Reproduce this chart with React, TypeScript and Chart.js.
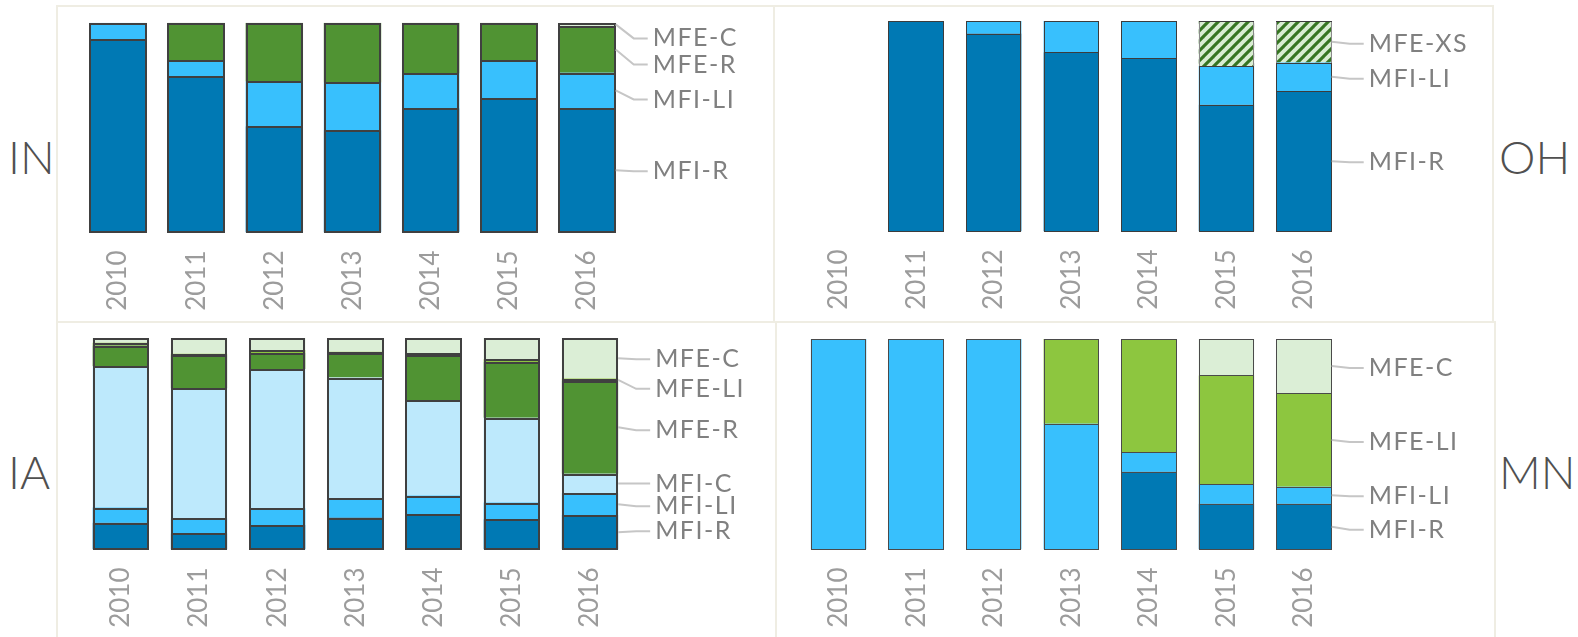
import React, { useEffect, useRef } from "react";
import { Chart, registerables } from "chart.js";

Chart.register(...registerables);

// ---------- data ----------
const YEARS = ["2010", "2011", "2012", "2013", "2014", "2015", "2016"];

// IN
const IN_MFI_R = [92, 74.4, 50.6, 48.7, 59.2, 64, 59.3];
const IN_MFI_LI = [8, 7.8, 21.4, 22.8, 16.6, 18, 16.8];
const IN_MFE_R = [null, 17.8, 28, 28.5, 24.2, 18, 22.3];
const IN_MFE_C = [null, null, null, null, null, null, 1.6];

// OH
const OH_MFI_R = [null, 100, 94.1, 85.2, 82.5, 60.3, 66.8];
const OH_MFI_LI = [null, null, 5.9, 14.8, 17.5, 18.4, 13.5];
const OH_MFE_XS = [null, null, null, null, null, 21.3, 19.7];

// IA
const IA_MFI_R = [12.7, 7.6, 11.6, 15.1, 16.6, 14.3, 16.3];
const IA_MFI_LI = [7.1, 7.1, 7.9, 9.1, 8.9, 7.9, 10.3];
const IA_MFI_C = [66.9, 61.5, 65.8, 57.1, 45.2, 40.1, 9.2];
const IA_MFE_R = [9.7, 15.6, 7.6, 11.6, 21.4, 26.3, 43.9];
const IA_MFE_LI = [1.4, 0.8, 1.4, 0.6, 0.6, 1.4, 1.1];
const IA_MFE_C = [2.2, 7.4, 5.7, 6.5, 7.3, 10, 19.2];

// MN
const MN_MFI_R = [null, null, null, null, 36.9, 21.7, 21.7];
const MN_MFI_LI = [100, 100, 100, 59.7, 9.4, 9.2, 8.1];
const MN_MFE_LI = [null, null, null, 40.3, 53.7, 51.8, 44.5];
const MN_MFE_C = [null, null, null, null, null, 17.3, 25.7];

// ---------- styles ----------
const C_MFI_R = "#0079b4";
const C_MFI_LI = "#38c0fd";
const C_MFI_C = "#bde9fc";
const C_MFE_R = "#509333";
const C_MFE_LI = "#8dc63f";
const C_MFE_C = "#dbeed6";
const FRAME = "#efede3";
const FONT = "Lato, 'Open Sans', sans-serif";

function makeHatch(): CanvasPattern | string {
  const c = document.createElement("canvas");
  c.width = 10;
  c.height = 10;
  const g = c.getContext("2d");
  if (!g) return "#dbeed6";
  g.fillStyle = "#d9edd3";
  g.fillRect(0, 0, 10, 10);
  g.strokeStyle = "#367522";
  g.lineWidth = 3.1;
  g.lineCap = "square";
  const segs = [
    [-5, 5, 5, -5],
    [0, 10, 10, 0],
    [5, 15, 15, 5],
  ];
  for (const s of segs) {
    g.beginPath();
    g.moveTo(s[0], s[1]);
    g.lineTo(s[2], s[3]);
    g.stroke();
  }
  const p = g.createPattern(c, "repeat");
  return p || "#dbeed6";
}

// draws the dark outlines of every stacked segment
const barBorders = {
  id: "barBorders",
  afterDatasetsDraw(chart: any, _args: any, opts: any) {
    const bw = opts.width || 1;
    const color = opts.color || "#404040";
    const ctx = chart.ctx;
    const n = chart.data.labels.length;
    ctx.save();
    for (let i = 0; i < n; i++) {
      let stackTop = Infinity;
      let stackBottom = -Infinity;
      let L = 0;
      let R = 0;
      let any = false;
      chart.data.datasets.forEach((ds: any, di: number) => {
        const v = ds.data[i];
        if (v == null || v <= 0) return;
        const el: any = chart.getDatasetMeta(di).data[i];
        if (!el) return;
        L = Math.round(el.x - el.width / 2);
        R = Math.round(el.x + el.width / 2);
        const top = Math.round(Math.min(el.y, el.base));
        const bot = Math.round(Math.max(el.y, el.base));
        stackTop = Math.min(stackTop, top);
        stackBottom = Math.max(stackBottom, bot);
        ctx.fillStyle = ds.edgeColor || color;
        ctx.fillRect(L, top, bw, bot - top);
        ctx.fillRect(R - bw, top, bw, bot - top);
        ctx.fillStyle = color;
        ctx.fillRect(L, top, R - L, bw);
        any = true;
      });
      if (!any) continue;
      ctx.fillStyle = color;
      ctx.fillRect(L, stackBottom - bw, R - L, bw);
    }
    ctx.restore();
  },
};

const sideLabels = {
  id: "sideLabels",
  afterDatasetsDraw(chart: any, _args: any, opts: any) {
    const items = (opts && opts.items) || [];
    const ctx = chart.ctx;
    ctx.save();
    ctx.font = `400 25px ${FONT}`;
    (ctx as any).letterSpacing = "1.5px";
    ctx.fillStyle = "#808080";
    ctx.textBaseline = "middle";
    ctx.textAlign = "left";
    for (const it of items) {
      const meta = chart.getDatasetMeta(it.ds);
      const el: any = meta.data[6];
      if (!el) continue;
      const right = el.x + el.width / 2;
      const mid = (el.y + el.base) / 2;
      const ly = mid + it.dy;
      ctx.strokeStyle = "#c6c6c6";
      ctx.lineWidth = 2;
      ctx.beginPath();
      ctx.moveTo(right, mid);
      ctx.lineTo(right + 18, ly);
      ctx.lineTo(right + 32, ly);
      ctx.stroke();
      ctx.fillText(it.text, right + 37, ly);
    }
    ctx.restore();
  },
};

type DS = { label: string; data: (number | null)[]; color: string | "hatch"; edge?: string };
type Panel = {
  id: string;
  canvas: { left: number; top: number; w: number; h: number };
  area: { left: number; right: number; top: number; bottom: number };
  barPct: number;
  bw: number;
  border: string;
  datasets: DS[];
  labels: { ds: number; text: string; dy: number }[];
};

const PANELS: Panel[] = [
  {
    id: "IN",
    canvas: { left: 57, top: 6, w: 717, h: 316 },
    area: { left: 78.9, right: 626.1, top: 22.7, bottom: 232.5 },
    barPct: 0.734,
    bw: 2,
    border: "#404040",
    datasets: [
      { label: "MFI-R", data: IN_MFI_R, color: C_MFI_R },
      { label: "MFI-LI", data: IN_MFI_LI, color: C_MFI_LI },
      { label: "MFE-R", data: IN_MFE_R, color: C_MFE_R },
      { label: "MFE-C", data: IN_MFE_C, color: C_MFE_C },
    ],
    labels: [
      { ds: 3, text: "MFE-C", dy: 14 },
      { ds: 2, text: "MFE-R", dy: 15 },
      { ds: 1, text: "MFI-LI", dy: 9 },
      { ds: 0, text: "MFI-R", dy: 1 },
    ],
  },
  {
    id: "OH",
    canvas: { left: 774, top: 6, w: 719, h: 316 },
    area: { left: 799.8, right: 1342.8, top: 21.1, bottom: 231.5 },
    barPct: 0.714,
    bw: 1,
    border: "#3c3c3c",
    datasets: [
      { label: "MFI-R", data: OH_MFI_R, color: C_MFI_R },
      { label: "MFI-LI", data: OH_MFI_LI, color: C_MFI_LI },
      { label: "MFE-XS", data: OH_MFE_XS, color: "hatch", edge: "#8a8a8a" },
    ],
    labels: [
      { ds: 2, text: "MFE-XS", dy: 2 },
      { ds: 1, text: "MFI-LI", dy: 2 },
      { ds: 0, text: "MFI-R", dy: 1 },
    ],
  },
  {
    id: "IA",
    canvas: { left: 57, top: 322, w: 719, h: 315 },
    area: { left: 81.7, right: 629.1, top: 338, bottom: 549.5 },
    barPct: 0.72,
    bw: 2,
    border: "#404040",
    datasets: [
      { label: "MFI-R", data: IA_MFI_R, color: C_MFI_R },
      { label: "MFI-LI", data: IA_MFI_LI, color: C_MFI_LI },
      { label: "MFI-C", data: IA_MFI_C, color: C_MFI_C },
      { label: "MFE-R", data: IA_MFE_R, color: C_MFE_R },
      { label: "MFE-LI", data: IA_MFE_LI, color: C_MFE_LI },
      { label: "MFE-C", data: IA_MFE_C, color: C_MFE_C },
    ],
    labels: [
      { ds: 5, text: "MFE-C", dy: 1 },
      { ds: 4, text: "MFE-LI", dy: 9 },
      { ds: 3, text: "MFE-R", dy: 3 },
      { ds: 2, text: "MFI-C", dy: 0 },
      { ds: 1, text: "MFI-LI", dy: 2 },
      { ds: 0, text: "MFI-R", dy: -1 },
    ],
  },
  {
    id: "MN",
    canvas: { left: 776, top: 322, w: 719, h: 315 },
    area: { left: 799.8, right: 1342.8, top: 339, bottom: 549.5 },
    barPct: 0.714,
    bw: 1,
    border: "#4a4a4a",
    datasets: [
      { label: "MFI-R", data: MN_MFI_R, color: C_MFI_R },
      { label: "MFI-LI", data: MN_MFI_LI, color: C_MFI_LI },
      { label: "MFE-LI", data: MN_MFE_LI, color: C_MFE_LI },
      { label: "MFE-C", data: MN_MFE_C, color: C_MFE_C },
    ],
    labels: [
      { ds: 3, text: "MFE-C", dy: 2 },
      { ds: 2, text: "MFE-LI", dy: 2 },
      { ds: 1, text: "MFI-LI", dy: 1 },
      { ds: 0, text: "MFI-R", dy: 3 },
    ],
  },
];

function PanelChart({ p }: { p: Panel }) {
  const ref = useRef<HTMLCanvasElement | null>(null);
  useEffect(() => {
    if (!ref.current) return;
    const hatch = makeHatch();
    const axisH = p.canvas.top + p.canvas.h - p.area.bottom;
    const chart = new Chart(ref.current, {
      type: "bar",
      data: {
        labels: YEARS,
        datasets: p.datasets.map((d) => ({
          label: d.label,
          data: d.data as any,
          backgroundColor: d.color === "hatch" ? (hatch as any) : d.color,
          borderWidth: 0,
          inflateAmount: 0,
          barPercentage: p.barPct,
          categoryPercentage: 1,
          edgeColor: d.edge,
        })) as any,
      },
      options: {
        animation: false,
        responsive: false,
        devicePixelRatio: 1,
        layout: {
          padding: {
            left: p.area.left - p.canvas.left,
            right: p.canvas.left + p.canvas.w - p.area.right,
            top: p.area.top - p.canvas.top,
            bottom: 0,
          },
        },
        plugins: {
          legend: { display: false },
          tooltip: { enabled: false },
          barBorders: { width: p.bw, color: p.border },
          sideLabels: { items: p.labels },
        } as any,
        scales: {
          x: {
            stacked: true,
            grid: { display: false },
            border: { display: false },
            ticks: {
              autoSkip: false,
              minRotation: 90,
              maxRotation: 90,
              padding: 10,
              color: "#9c9c9c",
              font: { family: FONT, size: 26, weight: "400" as any },
            },
            afterFit: (scale: any) => {
              scale.height = axisH;
            },
          },
          y: {
            stacked: true,
            display: false,
            min: 0,
            max: 100,
          },
        },
      },
      plugins: [barBorders as any, sideLabels as any],
    });
    return () => chart.destroy();
  }, [p]);
  return (
    <canvas
      ref={ref}
      width={p.canvas.w}
      height={p.canvas.h}
      style={{
        position: "absolute",
        left: p.canvas.left,
        top: p.canvas.top,
        width: p.canvas.w,
        height: p.canvas.h,
      }}
    />
  );
}

const frameStyle = (left: number, top: number, width: number, height: number): React.CSSProperties => ({
  position: "absolute",
  left,
  top,
  width,
  height,
  boxSizing: "border-box",
  border: `2px solid ${FRAME}`,
});

const stateStyle = (left: number, top: number): React.CSSProperties => ({
  position: "absolute",
  left,
  top,
  fontFamily: FONT,
  fontWeight: 300,
  fontSize: 46,
  lineHeight: "46px",
  color: "#505050",
  whiteSpace: "nowrap",
});

export default function App() {
  return (
    <div
      style={{
        position: "fixed",
        left: 0,
        top: 0,
        width: 1578,
        height: 637,
        overflow: "hidden",
        background: "#ffffff",
      }}
    >
      <div style={frameStyle(56, 5, 719, 318)} />
      <div style={frameStyle(773, 5, 721, 318)} />
      <div style={frameStyle(56, 321, 721, 330)} />
      <div style={frameStyle(775, 321, 721, 330)} />
      <div style={stateStyle(8, 134)}>IN</div>
      <div style={stateStyle(1499, 134)}>OH</div>
      <div style={stateStyle(8, 449)}>IA</div>
      <div style={stateStyle(1499, 449)}>MN</div>
      {PANELS.map((p) => (
        <PanelChart key={p.id} p={p} />
      ))}
    </div>
  );
}
